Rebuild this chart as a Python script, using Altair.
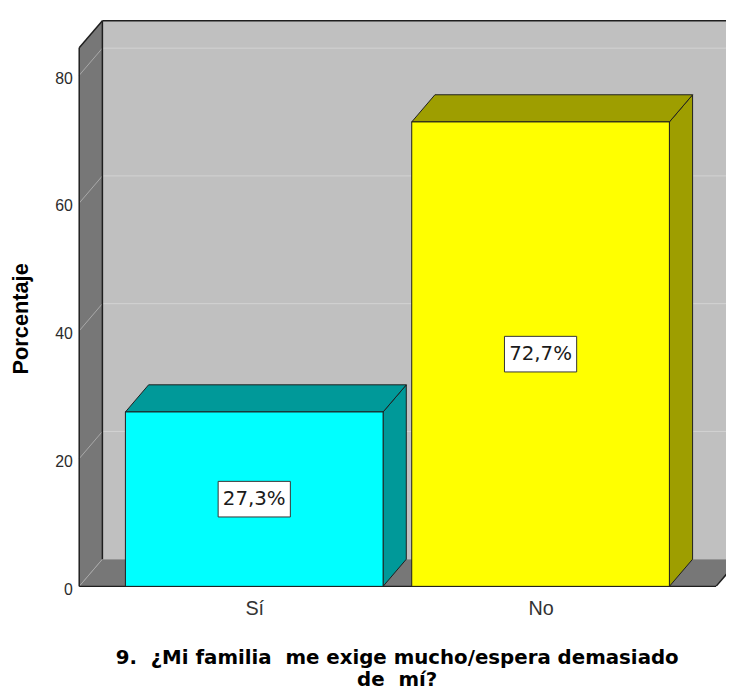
import json
import altair as alt
import pandas as pd

# ---------------- data ----------------
categories = ["Sí", "No"]
values = [27.3, 72.7]
y_ticks = [0, 20, 40, 60, 80]
grid_values = [20, 40, 60, 80]
x_title = ["9. \u00a0¿Mi familia \u00a0me exige mucho/espera demasiado", "de \u00a0mí?"]
y_title = "Porcentaje"

front_colors = ["#00FFFF", "#FFFF00"]
shade_colors = ["#009999", "#9E9E00"]

# ---------------- style / layout ----------------
WALL_BACK = "#C0C0C0"
WALL_SIDE = "#777777"
GRID_BACK = "#D2D2D2"
GRID_SIDE = "#A9A9A9"
EDGE = "#1E1E1E"

BAR_W = 0.9          # bar width in category units
DX = 0.081           # 3D depth along x (category units)
DY = 4.25            # 3D depth along y (percent units)
X_MIN, X_MAX = 0.3886, 2.6477
WALL_TOP = 84.3
Y_TOP = WALL_TOP + DY
FLOOR_END = 2.613

PLOT_W, PLOT_H = 654, 572

xs = alt.Scale(domain=[X_MIN, X_MAX], nice=False, zero=False)
ys = alt.Scale(domain=[0, Y_TOP], nice=False, zero=False)

label_expr = json.dumps(categories, ensure_ascii=False) + "[round(datum.value) - 1]"

x_axis = alt.Axis(
    values=[i + 1 for i in range(len(categories))],
    labelExpr=label_expr,
    domain=False, ticks=False, tickSize=0, grid=False,
    labelFont="Liberation Sans", labelFontSize=20, labelColor="#333333",
    labelPadding=12, labelFlush=False, labelOverlap=False,
    title=x_title, titleFont="DejaVu Sans", titleFontSize=20,
    titleFontWeight="bold", titleColor="#000000",
    titleX=321, titleY=78, titleBaseline="alphabetic", titleAlign="center",
    titleLineHeight=22,
)
y_axis = alt.Axis(
    values=y_ticks,
    domain=False, ticks=False, tickSize=0, grid=False,
    labelFont="Liberation Sans", labelFontSize=16, labelColor="#2b2b2b",
    labelPadding=7, labelOffset=3, labelBaseline="middle",
    title=y_title, titleFont="Liberation Sans", titleFontSize=22,
    titleFontWeight="bold", titleColor="#000000",
    titleX=-52, titleY=301, titleAngle=270, titleAlign="center",
    titleBaseline="alphabetic",
)


def X(field):
    return alt.X(field, type="quantitative", scale=xs, axis=x_axis)


def Y(field):
    return alt.Y(field, type="quantitative", scale=ys, axis=y_axis)


# ---------------- tables built from the arrays ----------------
pos = [i + 1 for i in range(len(categories))]
bars = pd.DataFrame({"cat": categories, "pos": pos, "value": values,
                     "front": front_colors, "shade": shade_colors})
bars["left"] = bars["pos"] - BAR_W / 2
bars["right"] = bars["pos"] + BAR_W / 2
bars["zero"] = 0.0
bars["mid"] = bars["value"] / 2
bars["label"] = [f"{v:.1f}".replace(".", ",") + "%" for v in values]

side_rows, top_rows = [], []
for c, l, r, v, s in zip(categories, bars["left"], bars["right"], values, shade_colors):
    side_rows.append({"cat": c, "x": r, "lo": 0.0, "hi": v, "shade": s})
    side_rows.append({"cat": c, "x": r + DX, "lo": DY, "hi": v + DY, "shade": s})
    top_rows.append({"cat": c, "y": v, "xl": l, "xr": r, "shade": s})
    top_rows.append({"cat": c, "y": v + DY, "xl": l + DX, "xr": r + DX, "shade": s})
side = pd.DataFrame(side_rows)
top = pd.DataFrame(top_rows)

back_wall = pd.DataFrame({"x": [X_MIN + DX], "x2": [X_MAX], "y": [DY], "y2": [Y_TOP]})
left_wall = pd.DataFrame({"x": [X_MIN, X_MIN + DX], "lo": [0.0, DY], "hi": [WALL_TOP, Y_TOP]})
floor = pd.DataFrame({"y": [0.0, DY], "xl": [X_MIN, X_MIN + DX],
                      "xr": [FLOOR_END, FLOOR_END + DX]})

grid_back = pd.DataFrame({"x": X_MIN + DX, "x2": X_MAX,
                          "y": [g + DY for g in grid_values]})
grid_side = pd.DataFrame({"x": X_MIN, "x2": X_MIN + DX,
                          "y": [float(t) for t in y_ticks],
                          "y2": [t + DY for t in y_ticks]})

edges = pd.DataFrame([
    {"x": X_MIN, "y": 0.0, "x2": X_MIN, "y2": WALL_TOP},
    {"x": X_MIN, "y": WALL_TOP, "x2": X_MIN + DX, "y2": Y_TOP},
    {"x": X_MIN + DX, "y": Y_TOP, "x2": X_MAX, "y2": Y_TOP},
    {"x": X_MIN + DX, "y": DY, "x2": X_MIN + DX, "y2": Y_TOP},
    {"x": X_MIN, "y": 0.0, "x2": FLOOR_END, "y2": 0.0},
])
edge_clip = pd.DataFrame([{"x": FLOOR_END, "y": 0.0, "x2": FLOOR_END + DX, "y2": DY}])

# ---------------- layers ----------------
l_back = alt.Chart(back_wall).mark_rect(color=WALL_BACK).encode(
    x=X("x"), x2="x2", y=Y("y"), y2="y2")
l_grid_back = alt.Chart(grid_back).mark_rule(color=GRID_BACK, strokeWidth=1).encode(
    x=X("x"), x2="x2", y=Y("y"))
l_floor = alt.Chart(floor).mark_area(orient="horizontal", color=WALL_SIDE, clip=True).encode(
    y=Y("y"), x=X("xl"), x2="xr")
l_left = alt.Chart(left_wall).mark_area(color=WALL_SIDE).encode(
    x=X("x"), y=Y("lo"), y2="hi")
l_grid_side = alt.Chart(grid_side).mark_rule(color=GRID_SIDE, strokeWidth=1).encode(
    x=X("x"), x2="x2", y=Y("y"), y2="y2")
l_edges = alt.Chart(edges).mark_rule(color=EDGE, strokeWidth=1.5).encode(
    x=X("x"), x2="x2", y=Y("y"), y2="y2")
l_edge_clip = alt.Chart(edge_clip).mark_rule(color=EDGE, strokeWidth=1.5, clip=True).encode(
    x=X("x"), x2="x2", y=Y("y"), y2="y2")

l_side = alt.Chart(side).mark_area(stroke=EDGE, strokeWidth=1, opacity=1).encode(
    x=X("x"), y=Y("lo"), y2="hi",
    fill=alt.Fill("shade:N", scale=None), detail="cat:N")
l_top = alt.Chart(top).mark_area(orient="horizontal", stroke=EDGE, strokeWidth=1, opacity=1).encode(
    y=Y("y"), x=X("xl"), x2="xr",
    fill=alt.Fill("shade:N", scale=None), detail="cat:N")
l_front = alt.Chart(bars).mark_rect(stroke=EDGE, strokeWidth=1, opacity=1).encode(
    x=X("left"), x2="right", y=Y("zero"), y2="value",
    fill=alt.Fill("front:N", scale=None))

l_box = alt.Chart(bars).mark_point(
    shape="M-1,-0.493L1,-0.493L1,0.493L-1,0.493Z", size=73 * 73,
    filled=True, fill="white", stroke="#333333", strokeWidth=1, opacity=1,
).encode(x=X("pos"), y=Y("mid"))
l_text = alt.Chart(bars).mark_text(
    font="DejaVu Sans", fontSize=20, color="#1a1a1a", baseline="middle", align="center",
).encode(x=X("pos"), y=Y("mid"), text="label:N")

chart = alt.layer(
    l_back, l_grid_back, l_floor, l_left, l_grid_side, l_edges, l_edge_clip,
    l_side, l_top, l_front, l_box, l_text,
).properties(
    width=PLOT_W, height=PLOT_H,
    autosize=alt.AutoSizeParams(type="none"),
    padding={"left": 72, "top": 9, "right": 0, "bottom": 104},
).configure_view(strokeWidth=0)

chart.save("out.html", embed_options={"renderer": "svg", "actions": False})
